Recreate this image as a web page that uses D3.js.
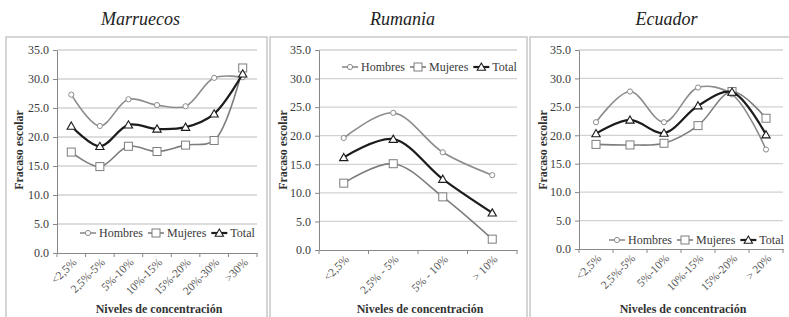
<!DOCTYPE html>
<html>
<head>
<meta charset="utf-8">
<script src="https://cdn.jsdelivr.net/npm/d3@7"></script>
<style>
  body { margin: 0; background: #fff; }
  svg { display: block; }
  svg text { font-family: "Liberation Serif", "DejaVu Serif", serif; }
</style>
</head>
<body>
<svg id="chart" width="789" height="317"></svg>
<script>
const seriesNames = ["Hombres", "Mujeres", "Total"];

const marruecosCats = ["<2,5%", "2,5%-5%", "5%-10%", "10%-15%", "15%-20%", "20%-30%", ">30%"];
const marruecosHombres = [27.3, 21.9, 26.5, 25.5, 25.3, 30.2, 30.3];
const marruecosMujeres = [17.4, 14.9, 18.4, 17.5, 18.6, 19.4, 31.9];
const marruecosTotal = [21.9, 18.4, 22.1, 21.4, 21.7, 24.0, 30.9];

const rumaniaCats = ["<2,5%", "2,5% - 5%", "5% - 10%", "> 10%"];
const rumaniaHombres = [19.6, 24.0, 17.1, 13.1];
const rumaniaMujeres = [11.7, 15.1, 9.3, 1.9];
const rumaniaTotal = [16.2, 19.4, 12.4, 6.5];

const ecuadorCats = ["<2,5%", "2,5%-5%", "5%-10%", "10%-15%", "15%-20%", "> 20%"];
const ecuadorHombres = [22.3, 27.7, 22.3, 28.4, 27.2, 17.5];
const ecuadorMujeres = [18.4, 18.3, 18.6, 21.7, 27.7, 23.0];
const ecuadorTotal = [20.3, 22.7, 20.4, 25.2, 27.6, 20.1];

const yTicks = [0, 5, 10, 15, 20, 25, 30, 35];

const panels = [
  { title: "Marruecos", cats: marruecosCats, values: [marruecosHombres, marruecosMujeres, marruecosTotal],
    frame: [6, 267], x: [57, 257], y: [253, 50], legend: [80, 233] },
  { title: "Rumania", cats: rumaniaCats, values: [rumaniaHombres, rumaniaMujeres, rumaniaTotal],
    frame: [270, 527], x: [319, 517], y: [250, 50], legend: [342, 67] },
  { title: "Ecuador", cats: ecuadorCats, values: [ecuadorHombres, ecuadorMujeres, ecuadorTotal],
    frame: [530, 795], x: [579, 783], y: [249, 50], legend: [609, 240] }
];

const lineColor = ["#8c8c8c", "#7d7d7d", "#1c1c1c"];
const lineWidth = [1.6, 1.6, 2.2];
const textColor = "#3a3a3a";

const svg = d3.select("#chart");

function marker(g, i, cx, cy) {
  const c = lineColor[i];
  if (i === 0) {
    g.append("circle").attr("cx", cx).attr("cy", cy).attr("r", 2.6)
      .attr("fill", "#fff").attr("stroke", c).attr("stroke-width", 1);
  } else if (i === 1) {
    g.append("rect").attr("x", cx - 4).attr("y", cy - 4).attr("width", 8).attr("height", 8)
      .attr("fill", "#fff").attr("stroke", c).attr("stroke-width", 1);
  } else {
    g.append("path").attr("d", d3.symbol(d3.symbolTriangle, 30)())
      .attr("transform", `translate(${cx},${cy + 0.8})`)
      .attr("fill", "#fff").attr("stroke", c).attr("stroke-width", 1.1);
  }
}

panels.forEach(p => {
  const g = svg.append("g");

  // frame
  g.append("rect").attr("x", p.frame[0]).attr("y", 37)
    .attr("width", p.frame[1] - p.frame[0]).attr("height", 300)
    .attr("fill", "none").attr("stroke", "#c8c8c8").attr("stroke-width", 1.5);

  // title
  g.append("text").attr("x", (p.frame[0] + p.frame[1]) / 2 + 4).attr("y", 25)
    .attr("text-anchor", "middle").attr("font-style", "italic").attr("font-size", 18)
    .attr("fill", "#222").text(p.title);

  const xBand = d3.scaleBand(p.cats, p.x);
  const xPos = c => xBand(c) + xBand.bandwidth() / 2;
  const yScale = d3.scaleLinear([0, 35], p.y);

  // grid
  g.append("g").selectAll("line").data(yTicks.slice(1)).join("line")
    .attr("x1", p.x[0]).attr("x2", p.x[1])
    .attr("y1", d => yScale(d)).attr("y2", d => yScale(d))
    .attr("stroke", "#d2d2d2").attr("stroke-width", 1.3);

  // y axis
  const yAxis = g.append("g").attr("transform", `translate(${p.x[0]},0)`)
    .call(d3.axisLeft(yScale).tickValues(yTicks).tickFormat(d3.format(".1f")).tickSizeInner(4).tickSizeOuter(0).tickPadding(4))
    .attr("font-family", null);
  yAxis.select(".domain").attr("stroke", "#888");
  yAxis.selectAll(".tick line").attr("stroke", "#888");
  yAxis.selectAll("text").attr("font-size", 12).attr("fill", textColor);

  // x axis
  const y0 = yScale(0);
  const xAxis = g.append("g").attr("transform", `translate(0,${y0})`)
    .call(d3.axisBottom(xBand).tickSize(0).tickPadding(0))
    .attr("font-family", null);
  xAxis.select(".domain").attr("stroke", "#888");
  xAxis.selectAll(".tick text")
    .attr("font-size", 11.5).attr("fill", "#555")
    .attr("text-anchor", "end").attr("dy", null)
    .attr("transform", "translate(6,10) rotate(-45)");
  g.append("g").selectAll("line").data(p.cats.map(c => xBand(c)).concat([p.x[1]])).join("line")
    .attr("x1", d => d).attr("x2", d => d).attr("y1", y0).attr("y2", y0 + 4)
    .attr("stroke", "#888");

  // axis titles
  g.append("text").attr("x", (p.x[0] + p.x[1]) / 2 + 2).attr("y", 313)
    .attr("text-anchor", "middle").attr("font-weight", "bold").attr("font-size", 12)
    .attr("fill", "#333").text("Niveles de concentración");
  g.append("text").attr("transform", `translate(${p.frame[0] + 17},150) rotate(-90)`)
    .attr("text-anchor", "middle").attr("font-weight", "bold").attr("font-size", 12)
    .attr("fill", "#333").text("Fracaso escolar");

  // series
  const line = d3.line().curve(d3.curveCatmullRom.alpha(0.5))
    .x(d => xPos(d.c)).y(d => yScale(d.v));
  p.values.forEach((vals, i) => {
    const data = p.cats.map((c, j) => ({ c, v: vals[j] }));
    const sg = g.append("g");
    sg.append("path").attr("d", line(data)).attr("fill", "none")
      .attr("stroke", lineColor[i]).attr("stroke-width", lineWidth[i]);
    data.forEach(d => marker(sg, i, xPos(d.c), yScale(d.v)));
  });

  // legend
  let lx = p.legend[0];
  const ly = p.legend[1];
  seriesNames.forEach((name, i) => {
    const lg = g.append("g");
    lg.append("line").attr("x1", lx).attr("x2", lx + 16).attr("y1", ly).attr("y2", ly)
      .attr("stroke", lineColor[i]).attr("stroke-width", lineWidth[i]);
    marker(lg, i, lx + 8, ly);
    const t = lg.append("text").attr("x", lx + 19).attr("y", ly + 4)
      .attr("font-size", 12).attr("fill", textColor).text(name);
    lx += 19 + t.node().getComputedTextLength() + 5;
  });
});
</script>
</body>
</html>
